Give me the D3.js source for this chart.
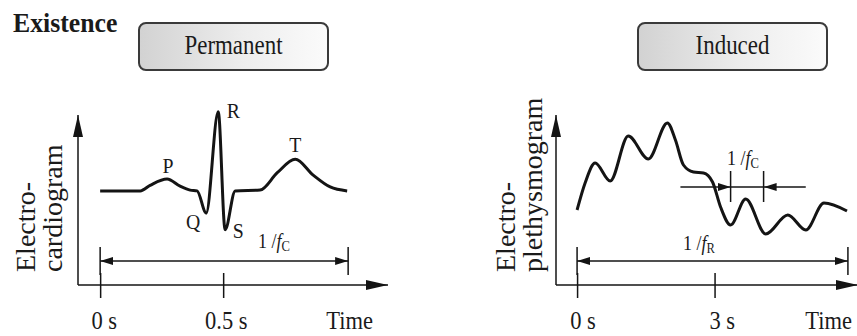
<!DOCTYPE html>
<html>
<head>
<meta charset="utf-8">
<script src="https://cdn.jsdelivr.net/npm/d3@7"></script>
<style>
    body { margin: 0; background: #fff; }
    svg { display: block; }
    text { font-family: "Liberation Serif", "Times New Roman", serif; fill: #1a1a1a; }
</style>
</head>
<body>
<svg id="chart"></svg>
<script>
// Electrocardiogram, one cycle (time in s, amplitude relative to R)
var ecgTime = [0, 0.163, 0.203, 0.272, 0.325, 0.366, 0.394, 0.431, 0.480, 0.508, 0.549, 0.650, 0.720, 0.793, 0.866, 0.935, 1.004];
var ecgValue = [0, 0, 0.07, 0.15, 0.06, 0.01, 0, -0.28, 1.0, -0.49, 0, 0.01, 0.23, 0.40, 0.20, 0.05, 0];
var waveNames = ["P", "Q", "R", "S", "T"];
var waveTime = [0.276, 0.378, 0.541, 0.561, 0.793];
var waveValue = [0.23, -0.48, 0.92, -0.59, 0.49];
var ecgTicks = [0, 0.5];
var ecgTickLabels = ["0 s", "0.5 s"];
var ecgPeriod = 1.008;          // 1 / fC

// Electroplethysmogram (time in s, arbitrary units)
var ppgTime = [0, 0.175, 0.394, 0.723, 1.117, 1.555, 1.971, 2.146, 2.321, 2.54, 2.759, 2.956, 3.131, 3.35, 3.679, 4.117, 4.598, 4.992, 5.387, 5.89];
var ppgValue = [0.75, 1.02, 1.22, 1.04, 1.49, 1.26, 1.62, 1.45, 1.20, 1.13, 1.12, 1.03, 0.78, 0.60, 0.86, 0.51, 0.70, 0.55, 0.82, 0.74];
var ppgTicks = [0, 3];
var ppgTickLabels = ["0 s", "3 s"];
var ppgResp = 5.91;             // 1 / fR
var ppgCardiac = [3.35, 4.07];  // 1 / fC
var ppgCardiacLine = [2.255, 4.99];
var ppgCardiacLevel = 0.98;

var boxLabels = ["Permanent", "Induced"];

var W = 857, H = 336;
var svg = d3.select("#chart").attr("width", W).attr("height", H);
var ink = "#141414";

var defs = svg.append("defs");
var grad = defs.append("linearGradient").attr("id", "boxFill")
    .attr("x1", 0).attr("x2", 1).attr("y1", 0).attr("y2", 0);
grad.append("stop").attr("offset", "0").attr("stop-color", "#d2d2d2");
grad.append("stop").attr("offset", "0.55").attr("stop-color", "#ededed");
grad.append("stop").attr("offset", "1").attr("stop-color", "#fbfbfb");

// arrow heads: long one for axes, short one for dimension lines
function marker(id, len, half) {
    defs.append("marker").attr("id", id)
        .attr("markerUnits", "userSpaceOnUse")
        .attr("viewBox", "0 " + (-half) + " " + len + " " + (2 * half))
        .attr("refX", len).attr("refY", 0)
        .attr("markerWidth", len).attr("markerHeight", 2 * half)
        .attr("orient", "auto-start-reverse")
        .append("path")
        .attr("d", "M0," + (-half) + "L" + len + ",0L0," + half + "Z")
        .attr("fill", ink);
}
marker("axisHead", 22, 5);
marker("dimHead", 13, 4);

// text helper, the source image is a little squeezed horizontally
function label(g, x, y, txt, size, sx, anchor, weight) {
    return g.append("text")
        .attr("transform", "translate(" + x + "," + y + ") scale(" + sx + ",1)")
        .attr("text-anchor", anchor || "start")
        .attr("font-size", size + "px")
        .attr("font-weight", weight || "normal")
        .text(txt);
}

function period(g, x, y, sub) {
    var t = g.append("text")
        .attr("transform", "translate(" + x + "," + y + ") scale(0.9,1)")
        .attr("font-size", "20px");
    t.append("tspan").text("1 /");
    t.append("tspan").attr("font-style", "italic").text("f");
    t.append("tspan").attr("font-size", "14px").attr("dy", 3).text(sub);
}

label(svg, 13, 32, "Existence", 28, 0.92, "start", "bold");

function box(cx, txt) {
    var w = 189;
    svg.append("rect")
        .attr("x", cx - w / 2).attr("y", 23)
        .attr("width", w).attr("height", 47)
        .attr("rx", 7)
        .attr("fill", "url(#boxFill)")
        .attr("stroke", "#3a3a3a").attr("stroke-width", 2);
    label(svg, cx, 54, txt, 27, 0.85, "middle");
}
box(233.5, boxLabels[0]);
box(732.5, boxLabels[1]);

// draws the frame of one panel: axes with arrows, ticks, labels, overall span
function panel(x, y, ticks, tickLabels, labelShift, span, yTitle, yTitleX, timeX) {
    var g = svg.append("g");
    var x0 = x.range()[0], x1 = x.range()[1];
    var y0 = y.range()[0], y1 = y.range()[1];

    g.append("line")
        .attr("x1", x0).attr("x2", x0).attr("y1", y0).attr("y2", y1)
        .attr("stroke", ink).attr("stroke-width", 1.5)
        .attr("marker-end", "url(#axisHead)");
    g.append("line")
        .attr("x1", x0).attr("x2", x1).attr("y1", y0).attr("y2", y0)
        .attr("stroke", ink).attr("stroke-width", 1.5)
        .attr("marker-end", "url(#axisHead)");

    var ax = g.append("g")
        .attr("transform", "translate(0," + y0 + ")")
        .call(d3.axisBottom(x).tickValues(ticks).tickSize(13)
            .tickFormat(function (d, i) { return tickLabels[i]; }));
    ax.select(".domain").remove();
    ax.selectAll(".tick line").attr("y1", -12).attr("stroke", ink).attr("stroke-width", 1.5);
    ax.selectAll(".tick text")
        .attr("y", 44).attr("dy", 0)
        .attr("x", function (d, i) { return labelShift[i]; })
        .attr("transform", "scale(0.9,1)")
        .attr("font-family", null)
        .attr("font-size", "25px")
        .attr("fill", "#1a1a1a");

    label(g, timeX, y0 + 44, "Time", 25, 0.9, "end");

    // overall span line with end bars
    var dy = y0 - 24;
    [0, span].forEach(function (t) {
        g.append("line")
            .attr("x1", x(t)).attr("x2", x(t))
            .attr("y1", dy - 14).attr("y2", dy + 14)
            .attr("stroke", ink).attr("stroke-width", 1.5);
    });
    g.append("line")
        .attr("x1", x(0)).attr("x2", x(span))
        .attr("y1", dy).attr("y2", dy)
        .attr("stroke", ink).attr("stroke-width", 1.5)
        .attr("marker-start", "url(#dimHead)")
        .attr("marker-end", "url(#dimHead)");

    // rotated axis title, two lines reading upwards
    yTitle.forEach(function (s, i) {
        g.append("text")
            .attr("transform", "translate(" + (yTitleX + i * 27) + "," + (y0 - 13) + ") rotate(-90)")
            .attr("text-anchor", "start")
            .attr("font-size", "28px")
            .text(s);
    });
    return g;
}

var line = d3.line().curve(d3.curveMonotoneX);

// ---- left: electrocardiogram
var xE = d3.scaleLinear().domain([-0.09, 1.17]).range([78, 388]);
var yE = d3.scaleLinear().domain([-1.19, 0.96]).range([285, 115]);
var gE = panel(xE, yE, ecgTicks, ecgTickLabels, [4, 3], ecgPeriod,
    ["Electro-", "cardiogram"], 35, 373);

gE.append("path")
    .attr("d", line(ecgTime.map(function (t, i) { return [xE(t), yE(ecgValue[i])]; })))
    .attr("fill", "none").attr("stroke", ink).attr("stroke-width", 3)
    .attr("stroke-linejoin", "round");

waveNames.forEach(function (n, i) {
    label(gE, xE(waveTime[i]), yE(waveValue[i]), n, 22, 0.9, "middle");
});
period(gE, 258, 248, "C");

// ---- right: electroplethysmogram
var xP = d3.scaleLinear().domain([-0.46, 6.13]).range([556, 858]);
var yP = d3.scaleLinear().domain([0, 1.7]).range([285, 115]);
var gP = panel(xP, yP, ppgTicks, ppgTickLabels, [6, 8], ppgResp,
    ["Electro-", "plethysmogram"], 515, 852);

gP.append("path")
    .attr("d", line(ppgTime.map(function (t, i) { return [xP(t), yP(ppgValue[i])]; })))
    .attr("fill", "none").attr("stroke", ink).attr("stroke-width", 3)
    .attr("stroke-linejoin", "round");

// cardiac period marked on the plethysmogram
var cy = yP(ppgCardiacLevel);
gP.append("line")
    .attr("x1", xP(ppgCardiac[0])).attr("x2", xP(ppgCardiac[1]))
    .attr("y1", cy).attr("y2", cy)
    .attr("stroke", ink).attr("stroke-width", 1.5);
gP.append("line")
    .attr("x1", xP(ppgCardiacLine[0])).attr("x2", xP(ppgCardiac[0]))
    .attr("y1", cy).attr("y2", cy)
    .attr("stroke", ink).attr("stroke-width", 1.5)
    .attr("marker-end", "url(#dimHead)");
gP.append("line")
    .attr("x1", xP(ppgCardiacLine[1])).attr("x2", xP(ppgCardiac[1]))
    .attr("y1", cy).attr("y2", cy)
    .attr("stroke", ink).attr("stroke-width", 1.5)
    .attr("marker-end", "url(#dimHead)");
ppgCardiac.forEach(function (t) {
    gP.append("line")
        .attr("x1", xP(t)).attr("x2", xP(t))
        .attr("y1", cy - 16).attr("y2", cy + 15)
        .attr("stroke", ink).attr("stroke-width", 1.5);
});
period(gP, 727, 165, "C");
period(gP, 683, 250, "R");
</script>
</body>
</html>
